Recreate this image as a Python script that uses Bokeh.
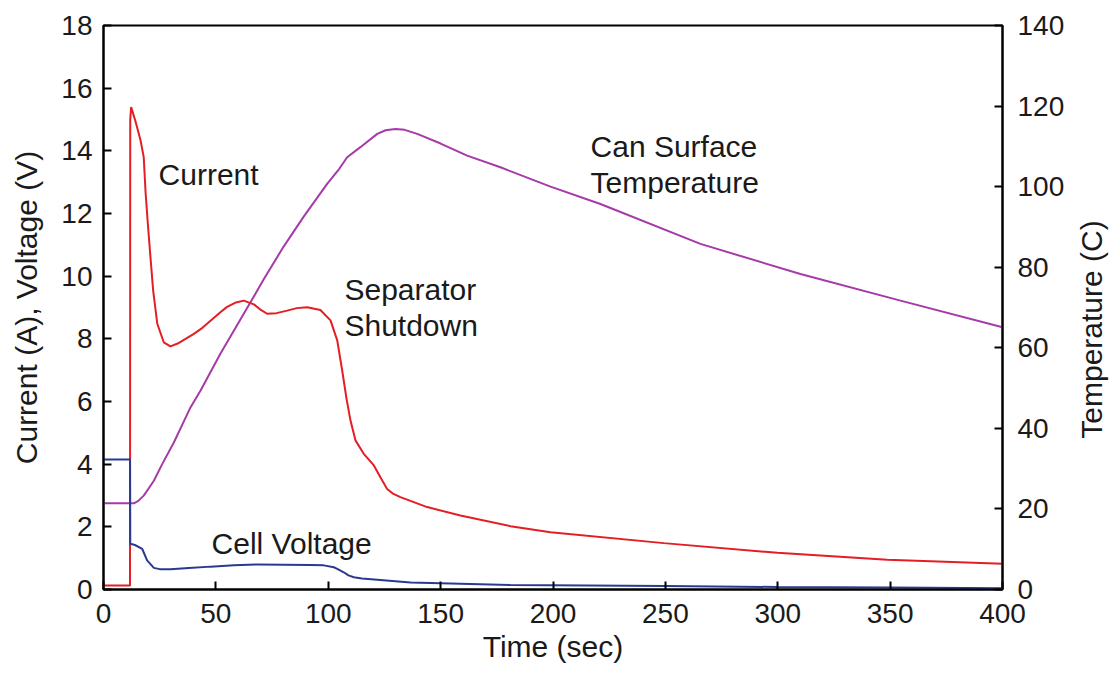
from bokeh.plotting import figure
from bokeh.layouts import row, column, Spacer
from bokeh.models import Range1d, LinearAxis, ColumnDataSource, FixedTicker
from bokeh.core.properties import value
from bokeh.embed import file_html
from bokeh.resources import INLINE

# ---- data ----
time_current = [0, 11.8, 11.9, 12.3, 14.4, 16.5, 17.9, 18.7, 19.7, 20.9, 22.1, 23.9, 26.8, 29.8, 33, 36.5, 40.2,
                44, 48, 52, 55, 58.5, 62.4, 66.9, 69.5, 72.8, 77, 81.7, 86, 90.6, 96.5, 101, 104, 106.2, 108.1, 109.9,
                112.1, 115.8, 120.3, 123.2, 126.2, 129, 132.1, 144, 158.8, 181.1, 198.9, 249.3, 299.8,
                348.7, 400]
current = [0.13, 0.13, 15.0, 15.4, 14.9, 14.33, 13.8, 12.7, 11.7, 10.6, 9.54, 8.49, 7.89, 7.76, 7.85, 8.0, 8.16,
           8.35, 8.6, 8.85, 9.02, 9.15, 9.22, 9.1, 8.95, 8.8, 8.82, 8.9, 8.98, 9.01, 8.92, 8.59, 7.95, 6.99, 6.1, 5.39,
           4.76, 4.33, 3.96, 3.58, 3.21, 3.05, 2.95, 2.63, 2.36, 2.02, 1.83, 1.48, 1.17,
           0.95, 0.82]

time_voltage = [0, 11.8, 11.9, 14, 17.2, 19.4, 22.4, 25, 29.8, 38, 47.6, 58, 68.4, 80, 92.1, 98, 102.5,
                104, 106.9, 109, 111.4, 115, 121.8, 136.6, 181, 250, 300, 350, 400]
voltage = [4.15, 4.15, 1.46, 1.42, 1.3, 0.93, 0.69, 0.65, 0.65, 0.69, 0.73, 0.77, 0.8, 0.79, 0.78, 0.77,
           0.71, 0.66, 0.55, 0.45, 0.39, 0.35, 0.31, 0.22, 0.14, 0.11, 0.08, 0.06, 0.04]

time_temp = [0, 13.5, 15.5, 17.9, 20, 22.4, 26, 31.3, 38.7, 43.2, 52, 65.4, 71.3, 80, 89, 99.5, 105, 108.4,
             114.3, 121.8, 125.5, 129.9, 134, 139.6, 150, 161.8, 176.6, 198.9, 221.1, 265.6, 310.1,
             354.6, 400]
temperature = [21.4, 21.4, 22.0, 23.3, 25, 27, 31, 36.5, 45.2, 49.4, 58.5, 71.3, 77, 85, 92.5, 100.7, 104.5,
               107.3, 109.8, 113.1, 114.0, 114.3, 114.1, 113.1, 110.7, 107.7, 104.8, 100, 95.7, 85.8,
               78.3, 71.7, 65.1]

label_text = ["Current", "Separator", "Shutdown", "Can Surface", "Temperature", "Cell Voltage"]
label_x = [24.5, 107.2, 107.2, 216.7, 216.7, 48.1]
label_y = [13.25, 9.58, 8.43, 14.14, 12.99, 1.47]

x_ticks = [0, 50, 100, 150, 200, 250, 300, 350, 400]
left_ticks = [0, 2, 4, 6, 8, 10, 12, 14, 16, 18]
right_ticks = [0, 20, 40, 60, 80, 100, 120, 140]

FONT = "Liberation Sans"
FS = "28px"
LFS = "30px"
TXT = "#1a1a1a"
RED = "#e31e24"
MAG = "#a53aa8"
BLUE = "#2b3990"

p = figure(width=1069, height=673, output_backend="svg", toolbar_location=None,
           x_range=Range1d(0, 400), y_range=Range1d(0, 18),
           min_border_left=103, min_border_right=67, min_border_top=25, min_border_bottom=84)
p.extra_y_ranges = {"temp": Range1d(0, 140)}

p.grid.visible = False
p.background_fill_color = "white"
p.border_fill_color = "white"
p.outline_line_color = "black"
p.outline_line_width = 2

right = LinearAxis(y_range_name="temp")
p.add_layout(right, "right")

for ax in [p.xaxis[0], p.yaxis[0], right]:
    ax.axis_line_width = 2
    ax.axis_line_color = "black"
    ax.major_tick_in = 8
    ax.major_tick_out = 0
    ax.major_tick_line_width = 2
    ax.minor_tick_line_color = None
    ax.major_label_text_font = FONT
    ax.major_label_text_font_size = FS
    ax.major_label_text_color = TXT
    ax.axis_label_text_font = FONT
    ax.axis_label_text_font_size = LFS
    ax.axis_label_text_font_style = "normal"
    ax.axis_label_text_color = TXT

p.xaxis[0].ticker = FixedTicker(ticks=x_ticks)
p.yaxis[0].ticker = FixedTicker(ticks=left_ticks)
right.ticker = FixedTicker(ticks=right_ticks)

p.xaxis[0].axis_label = "Time (sec)"
p.yaxis[0].axis_label = "Current (A), Voltage (V)"

p.xaxis[0].major_label_standoff = 14
p.xaxis[0].axis_label_standoff = 4
p.yaxis[0].major_label_standoff = 11
p.yaxis[0].axis_label_standoff = 15
right.major_label_standoff = 15

p.line(time_temp, temperature, y_range_name="temp", line_color=MAG, line_width=2)
p.line(time_current, current, line_color=RED, line_width=2)
p.line(time_voltage, voltage, line_color=BLUE, line_width=2)

src = ColumnDataSource(dict(x=label_x, y=label_y, text=label_text))
p.text(x="x", y="y", text="text", source=src, text_font=value(FONT), text_font_size=LFS,
       text_color=TXT, text_align="left", text_baseline="middle")

# narrow companion panel carrying the right-hand axis title (reads bottom-to-top)
p2 = figure(width=40, height=629, output_backend="svg", toolbar_location=None,
            x_range=Range1d(0, 1), y_range=Range1d(0, 140), x_axis_location=None,
            min_border_left=38, min_border_right=0, min_border_top=25, min_border_bottom=84)
p2.grid.visible = False
p2.outline_line_color = None
p2.background_fill_color = "white"
p2.border_fill_color = "white"
ax2 = p2.yaxis[0]
ax2.ticker = FixedTicker(ticks=[])
ax2.axis_line_color = None
ax2.major_tick_line_color = None
ax2.minor_tick_line_color = None
ax2.major_tick_in = 0
ax2.major_tick_out = 0
ax2.major_label_text_font_size = "0px"
ax2.major_label_standoff = 0
ax2.axis_label = "Temperature (C)"
ax2.axis_label_standoff = 0
ax2.axis_label_text_font = FONT
ax2.axis_label_text_font_size = LFS
ax2.axis_label_text_font_style = "normal"
ax2.axis_label_text_color = TXT

layout = row(p, column(Spacer(width=40, height=44), p2, spacing=0), spacing=0)

open("out.html", "w").write(file_html(layout, INLINE))
